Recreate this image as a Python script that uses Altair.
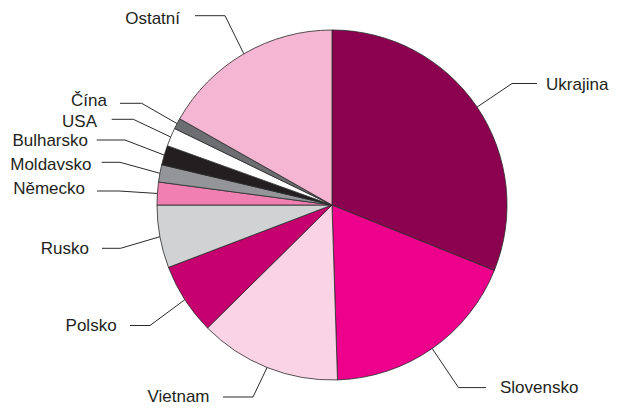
import altair as alt
import pandas as pd
import numpy as np

# ---- data (shares in %) ----
countries = ["Ukrajina", "Slovensko", "Vietnam", "Polsko", "Rusko", "Německo",
             "Moldavsko", "Bulharsko", "USA", "Čína", "Ostatní"]
shares = [31.1, 18.4, 13.1, 6.6, 5.8, 2.1, 1.6, 1.8, 1.7, 1.0, 16.8]
colors = ["#8C0050", "#EC008C", "#FAD3E5", "#C6006F", "#D1D2D4", "#F080B2",
          "#939598", "#231F20", "#FFFFFF", "#6D6E71", "#F4B6D3"]

# ---- layout (page pixels) ----
OFF = 8
W, H = 603, 398
CX, CY, R = 332 - OFF, 205 - OFF, 175
side = ["right", "right", "left", "left", "left", "left", "left", "left", "left", "left", "left"]
line_end_x = [537, 486, 223, 130, 102, 97, 101.7, 96.7, 111.7, 120, 195]
line_y = [83.5, 387.6, 397, 325.5, 248.3, 191, 162.3, 140, 119.3, 103.3, 15.7]
elbow_x = [512, 458.5, 253, 150, 120.6, 119, 120, 125, 133.3, 141.7, 225]
text_x = [546, 500, 209.5, 116.6, 89, 85, 91.5, 88, 97, 107, 180]
text_y = [90, 393, 402, 331, 253.5, 194, 170, 146, 126.5, 106, 24]

df = pd.DataFrame({"country": countries, "share": shares, "idx": range(len(countries))})

total = float(np.sum(shares))
cum = np.cumsum(shares)
mid = (cum - np.array(shares) / 2) / total * 2 * np.pi
px = CX + R * np.sin(mid)
py = CY - R * np.cos(mid)

rows = []
for i, c in enumerate(countries):
    rows.append({"country": c, "step": 0, "x": line_end_x[i] - OFF, "y": line_y[i] - OFF})
    rows.append({"country": c, "step": 1, "x": elbow_x[i] - OFF, "y": line_y[i] - OFF})
    rows.append({"country": c, "step": 2, "x": float(px[i]), "y": float(py[i])})
lines = pd.DataFrame(rows)

labels = pd.DataFrame({"country": countries, "side": side,
                       "x": [v - OFF for v in text_x], "y": [v - OFF for v in text_y]})

xs = alt.Scale(domain=[0, W], nice=False, zero=False)
ys = alt.Scale(domain=[0, H], nice=False, zero=False, reverse=True)

pie = alt.Chart(df).mark_arc(radius=R, stroke="#2a2a2a", strokeWidth=0.8).encode(
    theta=alt.Theta("share:Q", stack=True),
    color=alt.Color("country:N", scale=alt.Scale(domain=countries, range=colors), legend=None),
    order=alt.Order("idx:Q"),
    x=alt.value(CX),
    y=alt.value(CY),
)

leader = alt.Chart(lines).mark_line(color="#2a2a2a", strokeWidth=1).encode(
    x=alt.X("x:Q", scale=xs, axis=None),
    y=alt.Y("y:Q", scale=ys, axis=None),
    detail="country:N",
    order="step:Q",
)

txt_left = alt.Chart(labels).transform_filter(alt.datum.side == "right").mark_text(
    align="left", baseline="alphabetic", font="Liberation Sans", fontSize=17, color="#231F20"
).encode(x=alt.X("x:Q", scale=xs, axis=None), y=alt.Y("y:Q", scale=ys, axis=None), text="country:N")

txt_right = alt.Chart(labels).transform_filter(alt.datum.side == "left").mark_text(
    align="right", baseline="alphabetic", font="Liberation Sans", fontSize=17, color="#231F20"
).encode(x=alt.X("x:Q", scale=xs, axis=None), y=alt.Y("y:Q", scale=ys, axis=None), text="country:N")

chart = alt.layer(pie, leader, txt_left, txt_right).properties(
    width=W, height=H, padding=0, autosize=alt.AutoSizeParams(type="none"),
    background="white",
).configure_view(stroke=None)

chart.save("out.html", embed_options={"renderer": "svg", "actions": False})
